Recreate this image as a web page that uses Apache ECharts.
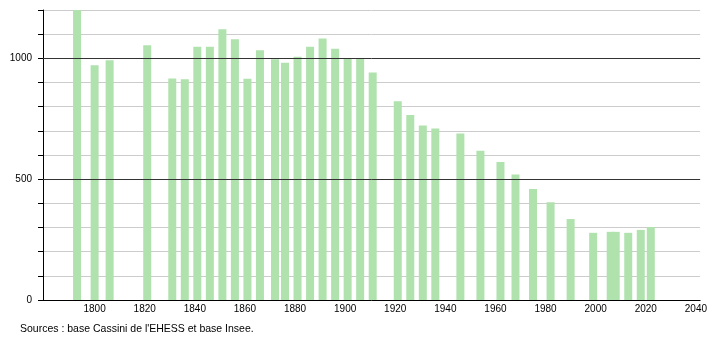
<!DOCTYPE html>
<html>
<head>
<meta charset="utf-8">
<script src="https://cdn.jsdelivr.net/npm/echarts@6/dist/echarts.min.js"></script>
<style>
html,body{margin:0;padding:0;background:#fff;}
#chart{width:710px;height:340px;}
</style>
</head>
<body>
<div id="chart"></div>
<script>
const years = [1793, 1800, 1806, 1821, 1831, 1836, 1841, 1846, 1851, 1856, 1861, 1866, 1872, 1876, 1881, 1886, 1891, 1896, 1901, 1906, 1911, 1921, 1926, 1931, 1936, 1946, 1954, 1962, 1968, 1975, 1982, 1990, 1999, 2006, 2008, 2013, 2018, 2022];
const population = [1200, 971, 992, 1054, 917, 913, 1048, 1048, 1120, 1079, 916, 1033, 996, 982, 1007, 1048, 1082, 1040, 999, 999, 941, 822, 766, 722, 710, 689, 618, 571, 519, 459, 405, 335, 278, 282, 282, 278, 290, 302];
const xTickLabels = [1800, 1820, 1840, 1860, 1880, 1900, 1920, 1940, 1960, 1980, 2000, 2020, 2040];
const yTickLabels = [0, 500, 1000];
const sourceText = "Sources : base Cassini de l'EHESS et base Insee.";

const chart = echarts.init(document.getElementById('chart'), null, {renderer: 'canvas'});
const font = 'Liberation Sans, Arial, sans-serif';
chart.setOption({
  animation: false,
  backgroundColor: '#fff',
  grid: {left: 43, right: 9, top: 10, bottom: 40, containLabel: false},
  xAxis: {
    type: 'value',
    min: 1779.4,
    max: 2041.7,
    axisLine: {show: true, lineStyle: {color: '#000', width: 1}},
    axisTick: {show: false},
    splitLine: {show: false},
    axisLabel: {
      customValues: xTickLabels,
      showMinLabel: true, showMaxLabel: true,
      color: '#000', fontFamily: font, fontSize: 10, margin: 4,
      formatter: v => String(v)
    }
  },
  yAxis: [{
    type: 'value', min: 0, max: 1200, interval: 100,
    axisLine: {show: true, lineStyle: {color: '#000', width: 1}},
    axisTick: {show: true, length: 5, lineStyle: {color: '#000'}},
    axisLabel: {show: false},
    splitLine: {show: true, lineStyle: {color: '#cccccc', width: 1}}
  }, {
    type: 'value', min: 0, max: 1200, position: 'left', offset: 0,
    axisLine: {show: false},
    axisTick: {show: false},
    axisLabel: {
      customValues: yTickLabels,
      color: '#000', fontFamily: font, fontSize: 10, margin: 11,
      formatter: v => String(v)
    },
    splitLine: {show: false}
  }],
  series: [{
    type: 'bar',
    yAxisIndex: 0,
    barWidth: 8,
    clip: true,
    itemStyle: {color: '#b0e2ae'},
    data: years.map((y, i) => [y, population[i]]),
    markLine: {
      silent: true, symbol: 'none',
      label: {show: false},
      lineStyle: {color: '#333', width: 1, type: 'solid'},
      data: [{yAxis: 500}, {yAxis: 1000}]
    }
  }],
  graphic: [{
    type: 'text', left: 20, top: 324,
    style: {text: sourceText, fill: '#000', font: '10.5px ' + font}
  }]
});
</script>
</body>
</html>
